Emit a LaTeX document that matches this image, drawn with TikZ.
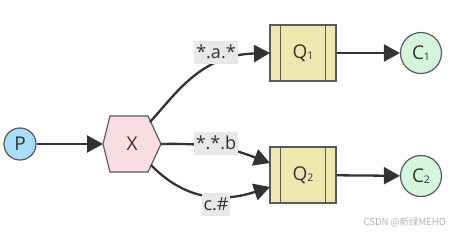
\documentclass[tikz,border=0pt]{standalone}
\usepackage{fontspec}
\setmainfont{Open Sans}
\newfontfamily\cjkfont{Noto Sans CJK SC}
\usetikzlibrary{arrows.meta}
\definecolor{pfill}{HTML}{A9DCF7}
\definecolor{cfill}{HTML}{D4F5DC}
\definecolor{hfill}{HTML}{FADDE3}
\definecolor{qfill}{HTML}{EEE8AF}
\definecolor{lfill}{HTML}{E8E8E8}
\definecolor{bord}{HTML}{5A5A5A}
\definecolor{edgec}{HTML}{333333}
\definecolor{txt}{HTML}{333333}
\tikzset{
  base/.style={draw=bord, line width=1.2pt, text=txt, font=\fontsize{19}{21}\selectfont, inner sep=0pt},
  circ/.style={base, circle},
  queue/.style={base, rectangle, fill=qfill, minimum width=66pt, minimum height=56pt},
  lbl/.style={fill=lfill, text=txt, font=\fontsize{18}{20}\selectfont, inner sep=2pt, minimum height=23pt},
  conn/.style={draw=edgec, line width=2.3pt, -{Triangle[length=16pt,width=17pt]}},
}
\newcommand{\sub}[1]{\raisebox{-1pt}{\fontsize{10.5}{10.5}\selectfont #1}}
\begin{document}
\begin{tikzpicture}[x=1pt,y=-1pt]
\useasboundingbox (0,0) rectangle (450,234);
% hexagon
\draw[draw=bord, line width=1.2pt, fill=hfill] (103,144) -- (110,116) -- (148,116) -- (161,144) -- (148,172) -- (110,172) -- cycle;
\node[text=txt, font=\fontsize{19}{21}\selectfont, minimum width=58pt, minimum height=56pt, inner sep=0pt] (X) at (132,144) {X};
\coordinate (Xtr) at (150,122);
\coordinate (Xbr) at (151,165);
\coordinate (Xl) at (103,144);
\coordinate (Xr) at (161,144);

\node[circ, fill=pfill, minimum size=32pt] (P) at (20,144) {P};
\node[queue] (Q1) at (303,53) {Q\sub{1}};
\node[queue] (Q2) at (303,175) {Q\sub{2}};
\foreach \q in {Q1,Q2}{
  \draw[draw=bord, line width=1.2pt] ([xshift=11pt]\q.north west) -- ([xshift=11pt]\q.south west);
  \draw[draw=bord, line width=1.2pt] ([xshift=-11pt]\q.north east) -- ([xshift=-11pt]\q.south east);
}
\node[circ, fill=cfill, minimum size=41pt] (C1) at (421,53) {C\sub{1}};
\node[circ, fill=cfill, minimum size=41pt] (C2) at (421,176) {C\sub{2}};

\coordinate (Q1in) at (270,53);
\coordinate (Q2a) at (270,163);
\coordinate (Q2b) at (270,187);

\draw[conn] (P) -- (Xl);
\draw[conn] (Xtr) .. controls (175,95) and (200,55) .. (Q1in);
\draw[conn] (Xr) .. controls (210,143) and (230,148) .. (Q2a);
\draw[conn] (Xbr) .. controls (180,195) and (215,205) .. (Q2b);
\draw[conn] (Q1) -- (C1);
\draw[conn] (Q2) -- (C2);

\node[lbl] (L1) at (216,52) {*.a.*};
\node[lbl] (L2) at (216,143) {*.*.b};
\node[lbl] (L3) at (216,204) {c.\#};

\node[text=gray!60, font=\fontsize{9.5}{10}\selectfont\cjkfont, anchor=east, inner sep=0pt] (W) at (446,222) {CSDN @新绿MEHO};
\end{tikzpicture}
\end{document}
